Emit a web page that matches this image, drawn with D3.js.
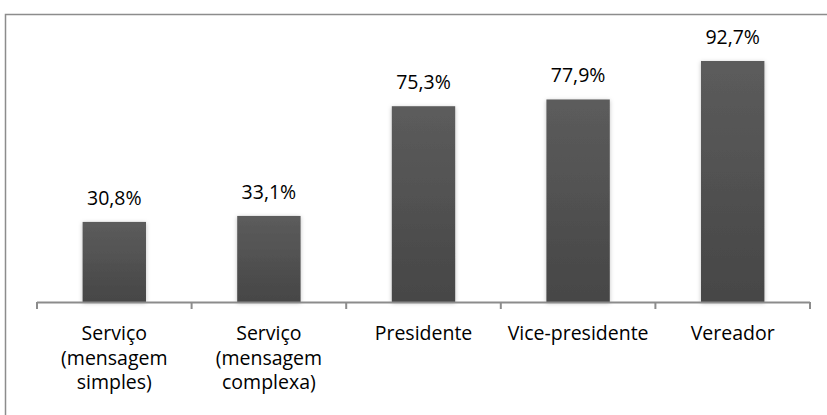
<!DOCTYPE html>
<html>
<head>
<meta charset="utf-8">
<script src="https://cdn.jsdelivr.net/npm/d3@7"></script>
<style>
html,body{margin:0;padding:0;background:#fff;}
svg{display:block;}
</style>
</head>
<body>
<script>
const categories = [["Serviço","(mensagem","simples)"],["Serviço","(mensagem","complexa)"],["Presidente"],["Vice-presidente"],["Vereador"]];
const values = [30.8, 33.1, 75.3, 77.9, 92.7];
const valueLabels = ["30,8%","33,1%","75,3%","77,9%","92,7%"];

const W = 827, H = 415;
const svg = d3.select("body").append("svg").attr("width", W).attr("height", H);
const font = "'Open Sans', sans-serif";
const fs = 19.5;

const defs = svg.append("defs");
const grad = defs.append("linearGradient").attr("id","barGrad").attr("x1",0).attr("y1",0).attr("x2",0).attr("y2",1);
grad.append("stop").attr("offset","0%").attr("stop-color","#5c5c5c");
grad.append("stop").attr("offset","100%").attr("stop-color","#464646");
const filt = defs.append("filter").attr("id","shadow").attr("x","-20%").attr("y","-10%").attr("width","140%").attr("height","130%");
filt.append("feDropShadow").attr("dx",0).attr("dy",1).attr("stdDeviation",2).attr("flood-color","#000").attr("flood-opacity",0.25);

// outer border
svg.append("rect").attr("x",5.5).attr("y",14.5).attr("width",830).attr("height",420)
  .attr("fill","none").attr("stroke","#8c8c8c").attr("stroke-width",1.5);

const x = d3.scaleBand().domain(d3.range(values.length)).range([37, 810]);
const y = d3.scaleLinear().domain([0, 100]).range([302, 42]);
const barW = x.bandwidth() * 0.41;

svg.append("g").selectAll("rect").data(values).join("rect")
  .attr("x", (d,i) => x(i) + x.bandwidth()/2 - barW/2)
  .attr("y", d => y(d))
  .attr("width", barW)
  .attr("height", d => y(0) - y(d))
  .attr("fill", "url(#barGrad)")
  .attr("filter","url(#shadow)");

svg.append("g").selectAll("text").data(values).join("text")
  .attr("x", (d,i) => x(i) + x.bandwidth()/2)
  .attr("y", d => y(d) - 17)
  .attr("text-anchor","middle")
  .attr("font-family", font).attr("font-size", fs).attr("fill","#000")
  .text((d,i) => valueLabels[i]);

// axis
const axisG = svg.append("g").attr("transform", `translate(0,${y(0)})`);
axisG.append("line").attr("x1", 37).attr("x2", 810).attr("y1", 0.5).attr("y2", 0.5)
  .attr("stroke","#8c8c8c").attr("stroke-width",2);
const bounds = d3.range(values.length).map(i => x(i)).concat([x.range()[1]]);
axisG.selectAll("line.tick").data(bounds).join("line").attr("class","tick")
  .attr("x1", d => d).attr("x2", d => d).attr("y1", 0).attr("y2", 7)
  .attr("stroke","#8c8c8c").attr("stroke-width",2);

const lab = svg.append("g").selectAll("text").data(categories).join("text")
  .attr("text-anchor","middle")
  .attr("font-family", font).attr("font-size", fs).attr("fill","#000");
lab.each(function(lines, i){
  d3.select(this).selectAll("tspan").data(lines).join("tspan")
    .attr("x", x(i) + x.bandwidth()/2)
    .attr("y", (l, j) => 340 + j * 24.5)
    .text(l => l);
});
</script>
</body>
</html>
